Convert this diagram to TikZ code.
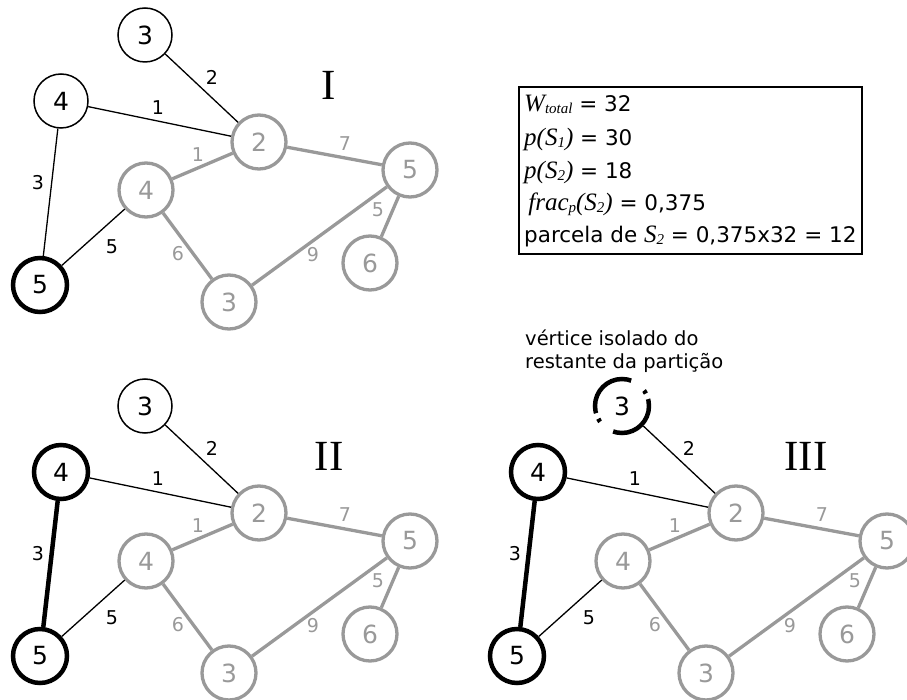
\documentclass[tikz,border=0pt]{standalone}
\usepackage{fontspec}
\setmainfont{DejaVu Sans}
\newfontfamily\tms{Liberation Serif}
\definecolor{lg}{HTML}{999999}
\newcommand\mi[1]{{\tms\itshape\fontsize{25}{25}\selectfont #1}}
\newcommand\msub[1]{\raisebox{-1.5pt}{\tms\itshape\fontsize{15}{15}\selectfont #1}}
\tikzset{
 vtx/.style={circle, minimum size=54pt, inner sep=0pt, font=\fontsize{25}{25}\selectfont, fill=white},
 thinv/.style={vtx, draw=black, line width=1.5pt},
 boldv/.style={vtx, draw=black, line width=4.5pt},
 grayv/.style={vtx, draw=lg, line width=3.3pt, text=lg},
 dashv/.style={vtx, draw=black, line width=4.5pt, dash pattern=on 59pt off 6pt on 3.5pt off 16.5pt, dash phase=52pt},
 thinedge/.style={draw=black, line width=1.3pt},
 boldedge/.style={draw=black, line width=4.5pt},
 grayedge/.style={draw=lg, line width=3.3pt},
 elab/.style={font=\fontsize{19}{19}\selectfont, inner sep=0pt},
 glab/.style={elab, text=lg},
 roman/.style={font=\tms\fontsize{43}{43}\selectfont, inner sep=0pt},
 boxtext/.style={font=\fontsize{21.5}{21.5}\selectfont, inner sep=0pt, anchor=base west},
 notetext/.style={font=\fontsize{19.5}{19.5}\selectfont, inner sep=0pt, anchor=base west},
}
% #1 prefix, #2 style of top 3, #3 style of 4, #4 style of edge 4-5, #5 roman numeral
\newcommand\mygraph[5]{%
 \node[#2] (#1t3) at (145,35) {3};
 \node[#3] (#1w4) at (61,101) {4};
 \node[boldv] (#1w5) at (40,285) {5};
 \node[grayv] (#1g2) at (259,142) {2};
 \node[grayv] (#1g4) at (146,190) {4};
 \node[grayv] (#1g5) at (410,170) {5};
 \node[grayv] (#1g6) at (370,263) {6};
 \node[grayv] (#1g3) at (229,302) {3};
 \draw[thinedge] (#1t3) -- (#1g2);
 \draw[thinedge] (#1w4) -- (#1g2);
 \draw[#4] (#1w4) -- (#1w5);
 \draw[thinedge] (#1w5) -- (#1g4);
 \draw[grayedge] (#1g4) -- (#1g2);
 \draw[grayedge] (#1g2) -- (#1g5);
 \draw[grayedge] (#1g4) -- (#1g3);
 \draw[grayedge] (#1g3) -- (#1g5);
 \draw[grayedge] (#1g5) -- (#1g6);
 \node[elab] (#1l32) at (212,77) {2};
 \node[elab] (#1l42) at (158,108) {1};
 \node[elab] (#1l45) at (38,183) {3};
 \node[elab] (#1l54) at (112,247) {5};
 \node[glab] (#1lg42) at (198,155) {1};
 \node[glab] (#1lg25) at (345,144) {7};
 \node[glab] (#1lg43) at (178,254) {6};
 \node[glab] (#1lg35) at (313,255) {9};
 \node[glab] (#1lg56) at (378,210) {5};
 \node[roman] (#1r) at (329,85) {#5};
}
\begin{document}
\begin{tikzpicture}[x=1pt, y=-1pt]
\useasboundingbox (0,0) rectangle (907,700);
\begin{scope}
 \mygraph{a}{thinv}{thinv}{thinedge}{I}
\end{scope}
\begin{scope}[shift={(0,371)}]
 \mygraph{b}{thinv}{boldv}{boldedge}{II}
\end{scope}
\begin{scope}[shift={(477,371)}]
 \mygraph{c}{dashv}{boldv}{boldedge}{III}
\end{scope}
\node[draw, line width=2pt, minimum width=343pt, minimum height=167pt, inner sep=0pt] (box) at (690.5,170.5) {};
\node[boxtext] (b1) at (524,112) {\mi{W}\msub{total} = 32};
\node[boxtext] (b2) at (524,146) {\mi{p(S}\msub{1}\mi{)} = 30};
\node[boxtext] (b3) at (524,179) {\mi{p(S}\msub{2}\mi{)} = 18};
\node[boxtext] (b4) at (524,211) {\mi{\,frac}\msub{p}\mi{(S}\msub{2}\mi{)} = 0,375};
\node[boxtext] (b5) at (524,243) {parcela de \mi{S}\msub{2} = 0,375x32 = 12};
\node[notetext] (n1) at (525,345) {vértice isolado do};
\node[notetext] (n2) at (525,368) {restante da partição};
\end{tikzpicture}
\end{document}
